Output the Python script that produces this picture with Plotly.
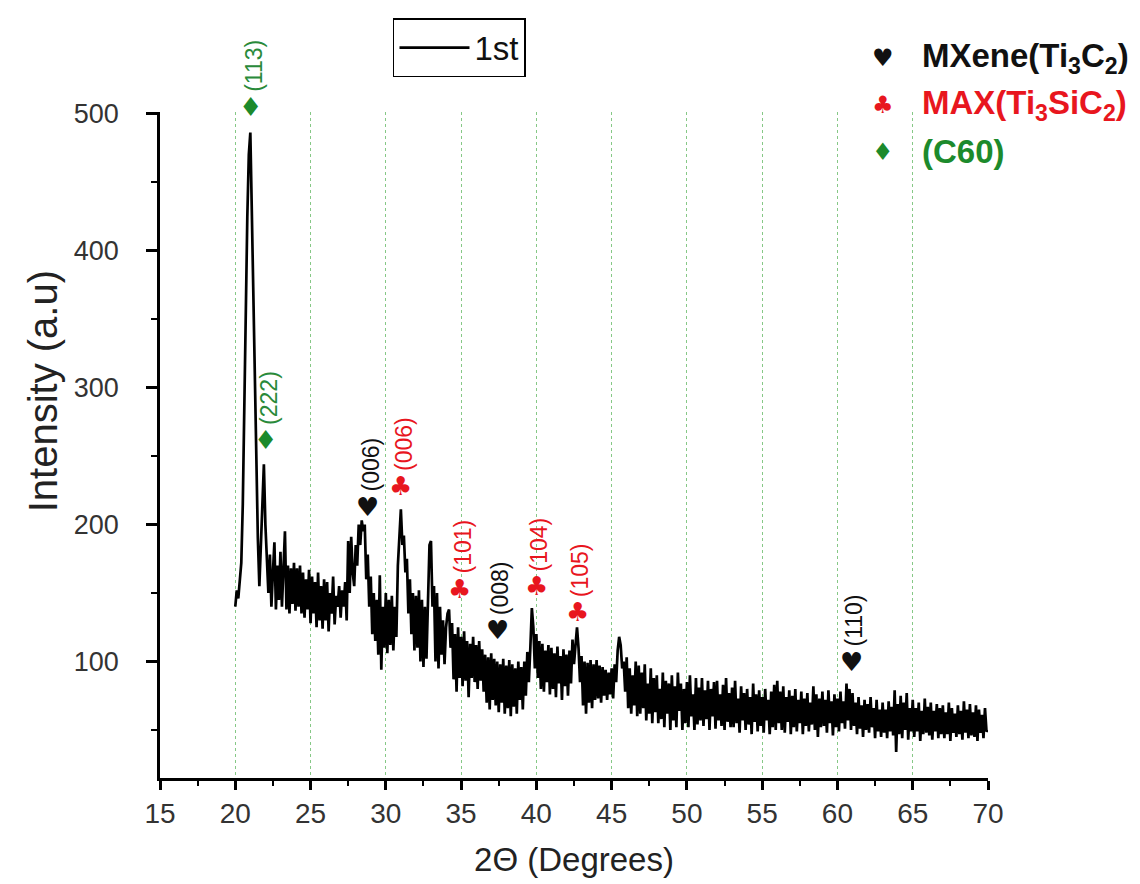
import numpy as np
import plotly.graph_objects as go

# ---------------- data ----------------
two_theta_start = 20.0
two_theta_step = 0.1
intensity = [
    140, 152, 146, 160, 172, 215, 290, 350, 425, 470,   # 20
    486, 428, 362, 300, 242, 190, 155, 185, 228, 244,   # 21
    200, 172, 150, 178, 140, 165, 187, 138, 170, 145,   # 22
    180, 140, 165, 195, 138, 170, 135, 168, 142, 172,   # 23
    137, 168, 140, 170, 135, 165, 132, 160, 138, 167,   # 24
    128, 162, 135, 158, 125, 165, 130, 155, 124, 160,   # 25
    130, 158, 122, 150, 135, 162, 127, 148, 140, 155,   # 26
    132, 152, 140, 158, 130, 188, 150, 191, 165, 155,   # 27
    185, 170, 200, 185, 203, 195, 200, 160, 178, 140,   # 28
    162, 120, 150, 115, 145, 105, 163, 94, 140, 110,    # 29
    150, 106, 145, 112, 148, 108, 140, 118, 170, 190,   # 30
    211, 185, 192, 165, 175, 135, 160, 120, 150, 108,   # 31
    148, 110, 152, 100, 145, 96, 140, 102, 150, 185,    # 32
    188, 140, 155, 100, 150, 95, 140, 105, 130, 98,     # 33
    125, 135, 138, 110, 128, 87, 120, 78, 125, 88,      # 34
    118, 82, 122, 86, 115, 74, 113, 88, 118, 85,        # 35
    112, 80, 115, 86, 109, 78, 105, 70, 103, 65,        # 36
    106, 72, 102, 68, 100, 63, 98, 70, 102, 62,         # 37
    97, 66, 101, 60, 98, 67, 95, 62, 100, 72,           # 38
    96, 65, 100, 75, 107, 85, 110, 139, 125, 95,        # 39
    120, 88, 115, 80, 113, 78, 108, 85, 112, 76,        # 40
    110, 80, 106, 74, 111, 84, 104, 72, 109, 82,        # 41
    105, 75, 108, 84, 116, 98, 112, 125, 110, 85,       # 42
    104, 68, 100, 62, 99, 70, 101, 66, 98, 72,          # 43
    101, 73, 97, 70, 96, 75, 94, 72, 92, 76,            # 44
    95, 73, 98, 85, 108, 118, 112, 95, 100, 78,         # 45
    103, 66, 95, 62, 90, 68, 100, 60, 97, 62,           # 46
    92, 66, 98, 57, 84, 62, 95, 55, 88, 63,             # 47
    90, 55, 80, 58, 92, 52, 86, 62, 84, 50,             # 48
    90, 57, 82, 52, 92, 64, 84, 50, 80, 55,             # 49
    85, 52, 90, 60, 76, 50, 88, 54, 81, 57,             # 50
    88, 53, 79, 58, 86, 50, 80, 60, 85, 51,             # 51
    86, 57, 76, 53, 83, 50, 88, 56, 77, 52,             # 52
    81, 52, 86, 55, 73, 48, 82, 57, 77, 50,             # 53
    80, 54, 74, 47, 84, 56, 76, 49, 79, 53,             # 54
    74, 48, 80, 57, 72, 47, 78, 52, 83, 50,             # 55
    86, 55, 78, 50, 82, 48, 74, 56, 79, 47,             # 56
    75, 52, 80, 49, 72, 55, 78, 47, 73, 53,             # 57
    77, 49, 70, 54, 82, 50, 76, 45, 73, 52,             # 58
    78, 53, 72, 48, 79, 55, 71, 46, 76, 52,             # 59
    73, 49, 78, 55, 71, 51, 84, 57, 80, 50,             # 60
    77, 53, 70, 47, 74, 51, 68, 45, 72, 50,             # 61
    69, 48, 74, 52, 66, 44, 72, 49, 65, 45,             # 62
    70, 48, 65, 44, 71, 49, 67, 46, 79, 34,             # 63
    69, 47, 75, 44, 70, 50, 77, 43, 66, 49,             # 64
    72, 45, 66, 49, 70, 42, 64, 47, 73, 48,             # 65
    67, 46, 70, 43, 64, 49, 69, 44, 66, 47,             # 66
    68, 44, 63, 47, 70, 42, 66, 48, 62, 45,             # 67
    68, 47, 64, 43, 71, 48, 65, 44, 69, 46,             # 68
    63, 45, 68, 42, 65, 48, 61, 44, 66, 49,             # 69
    50,                                                  # 70
]
two_theta = np.round(two_theta_start + two_theta_step * np.arange(len(intensity)), 2)

# peak markers
peak_x = [21.0, 22.0, 28.8, 31.0, 34.9, 37.4, 40.0, 42.7, 60.9]
peak_y = [505, 262, 213, 228, 153, 123, 155, 136, 100]
peak_labels = ["(113)", "(222)", "(006)", "(006)", "(101)", "(008)", "(104)", "(105)", "(110)"]
peak_phase = ["C60", "C60", "MXene", "MAX", "MAX", "MXene", "MAX", "MAX", "MXene"]

phase_names = ["MXene", "MAX", "C60"]
phase_legend = ["<b>MXene(Ti<sub>3</sub>C<sub>2</sub>)</b>",
                "<b>MAX(Ti<sub>3</sub>SiC<sub>2</sub>)</b>",
                "<b>(C60)</b>"]
phase_symbol = {"MXene": "\u2665", "MAX": "\u2663", "C60": "\u2666"}
phase_color = {"MXene": "#111111", "MAX": "#e8161e", "C60": "#1c8a2c"}
label_color = {"MXene": "#111111", "MAX": "#e8161e", "C60": "#2a8a3a"}
symbol_size = {"MXene": 26, "MAX": 26, "C60": 26}

x_ticks = [15, 20, 25, 30, 35, 40, 45, 50, 55, 60, 65, 70]
grid_ticks = [20, 25, 30, 35, 40, 45, 50, 55, 60, 65]
y_ticks = [100, 200, 300, 400, 500]

Y_RANGE = [15, 501]
PLOT_H = 666  # plot-area height in px (margins below)
px_per_unit = PLOT_H / (Y_RANGE[1] - Y_RANGE[0])

# ---------------- figure ----------------
fig = go.Figure()

fig.add_trace(go.Scatter(
    x=two_theta, y=intensity, mode="lines", name="1st",
    line=dict(color="black", width=2.7), showlegend=True,
))

annotations = []
for px_, py_, lab, ph in zip(peak_x, peak_y, peak_labels, peak_phase):
    y_in = min(py_, Y_RANGE[1])
    extra = (py_ - y_in) * px_per_unit
    annotations.append(dict(
        x=px_, y=y_in, xref="x", yref="y", text=phase_symbol[ph], showarrow=False,
        xanchor="center", yanchor="middle", yshift=extra,
        font=dict(family="DejaVu Sans", size=symbol_size[ph], color=phase_color[ph]),
    ))
    annotations.append(dict(
        x=px_, y=y_in, xref="x", yref="y", text=lab, showarrow=False,
        textangle=-90, xanchor="center", yanchor="bottom", yshift=13 + extra, xshift=3,
        font=dict(family="Arial, Liberation Sans", size=23, color=label_color[ph]),
    ))

# phase key (top right)
key_y = [1.081, 1.011, 0.940]
for ph, txt, ky in zip(phase_names, phase_legend, key_y):
    annotations.append(dict(
        x=0.873, y=ky, xref="paper", yref="paper", text=phase_symbol[ph],
        showarrow=False, xanchor="center", yanchor="middle",
        font=dict(family="DejaVu Sans", size=symbol_size[ph] - 2, color=phase_color[ph]),
    ))
    annotations.append(dict(
        x=0.918, y=ky, xref="paper", yref="paper", text=txt,
        showarrow=False, xanchor="left", yanchor="middle",
        font=dict(family="Arial, Liberation Sans", size=33, color=phase_color[ph]),
    ))

# y-axis title (drawn as annotation so it can sit above centre like the reference)
annotations.append(dict(
    x=-0.141, y=0.581, xref="paper", yref="paper", text="Intensity (a.u)",
    showarrow=False, textangle=-90, xanchor="center", yanchor="middle",
    font=dict(family="Arial, Liberation Sans", size=40, color="#222222"),
))

fig.update_layout(
    width=1140, height=884,
    margin=dict(l=160, r=152, t=112, b=106),
    paper_bgcolor="white", plot_bgcolor="white",
    annotations=annotations,
    legend=dict(
        x=0.2814, y=1.141, xanchor="left", yanchor="top",
        bordercolor="black", borderwidth=1.5, bgcolor="white",
        font=dict(family="Arial, Liberation Sans", size=33, color="#111111"),
        itemwidth=70, tracegroupgap=0,
    ),
    showlegend=True,
)

fig.update_xaxes(
    range=[15, 70], tickvals=x_ticks,
    showline=True, linecolor="black", linewidth=2.5,
    ticks="outside", ticklen=9, tickwidth=2.5, tickcolor="black",
    minor=dict(dtick=2.5, ticks="outside", ticklen=5, tickwidth=2, tickcolor="black", showgrid=False),
    showgrid=False, zeroline=False,
    tickfont=dict(family="Liberation Sans Narrow, Arial Narrow, Arial", size=28, color="#333333"),
    title=dict(text="2\u0398 (Degrees)", standoff=20,
               font=dict(family="Arial, Liberation Sans", size=33, color="#222222")),
)
fig.update_yaxes(
    range=Y_RANGE, tickvals=y_ticks,
    showline=True, linecolor="black", linewidth=2.5,
    ticks="outside", ticklen=11, tickwidth=2.5, tickcolor="black",
    minor=dict(dtick=50, tick0=0, ticks="outside", ticklen=6, tickwidth=2, tickcolor="black", showgrid=False),
    showgrid=False, zeroline=False, ticklabelstandoff=22,
    tickfont=dict(family="Arial, Liberation Sans", size=27, color="#333333"),
)

# dotted vertical grid at 20..65 via an overlaid axis
fig.update_layout(xaxis2=dict(
    overlaying="x", matches="x", tickvals=grid_ticks, showticklabels=False,
    ticks="", showline=False, zeroline=False,
    showgrid=True, gridcolor="#86c886", gridwidth=1.3, griddash="dot", layer="below traces",
))
fig.add_trace(go.Scatter(x=[two_theta[0]], y=[intensity[0]], xaxis="x2", mode="lines",
                         line=dict(color="rgba(0,0,0,0)"), showlegend=False, hoverinfo="skip"))

fig.write_html("out.html", config={"displayModeBar": False},
               post_script="document.body.style.margin='0px';")
